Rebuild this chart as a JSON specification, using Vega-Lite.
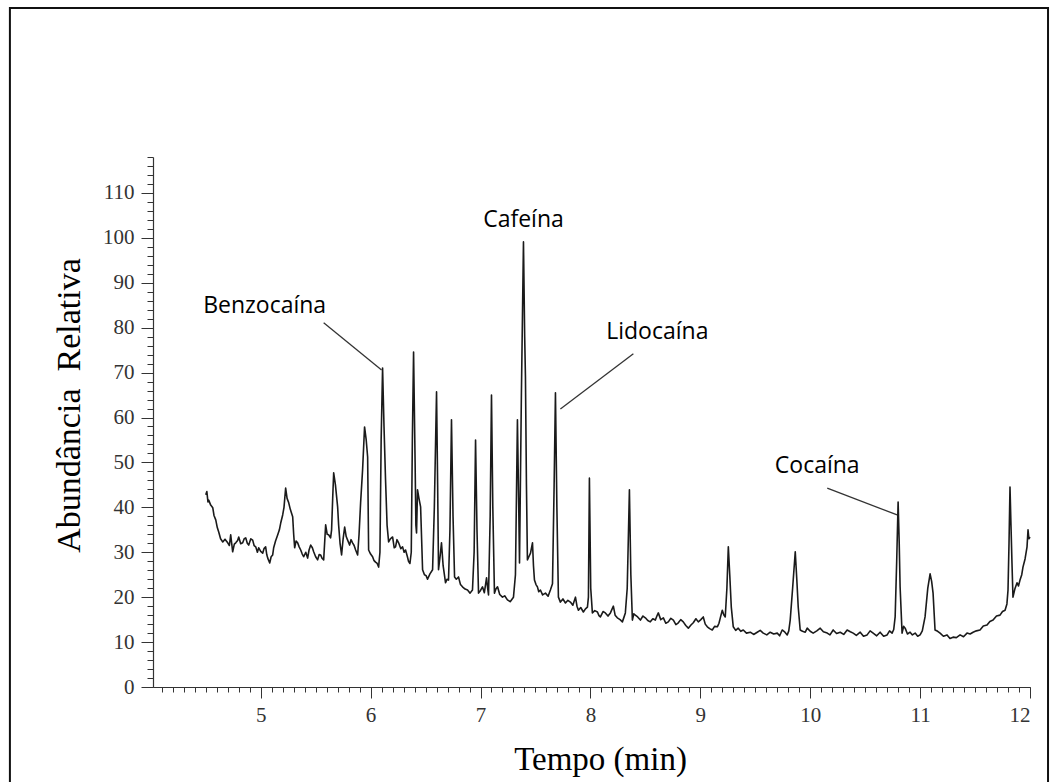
{
  "$schema": "https://vega.github.io/schema/vega-lite/v6.json",
  "width": 877,
  "height": 530,
  "autosize": {"type": "none"},
  "padding": {"left": 153, "top": 157, "right": 29, "bottom": 95},
  "background": "white",
  "config": {"view": {"stroke": null}},
  "datasets": {
    "trace": [
      {"t":4.500,"a":42.8},{"t":4.510,"a":43.5},{"t":4.520,"a":41.2},{"t":4.527,"a":41.6},{"t":4.545,"a":40.5},{"t":4.564,"a":39.9},{"t":4.575,"a":38.2},{"t":4.591,"a":37.2},{"t":4.605,"a":35.5},{"t":4.618,"a":34.5},{"t":4.635,"a":33.0},{"t":4.655,"a":32.3},{"t":4.675,"a":32.9},{"t":4.700,"a":32.1},{"t":4.715,"a":31.5},{"t":4.727,"a":33.9},{"t":4.745,"a":30.1},{"t":4.760,"a":31.8},{"t":4.773,"a":32.1},{"t":4.790,"a":32.6},{"t":4.800,"a":33.4},{"t":4.818,"a":31.9},{"t":4.836,"a":32.1},{"t":4.850,"a":33.0},{"t":4.864,"a":33.2},{"t":4.878,"a":32.0},{"t":4.891,"a":31.6},{"t":4.910,"a":33.0},{"t":4.927,"a":32.7},{"t":4.940,"a":31.5},{"t":4.955,"a":31.2},{"t":4.970,"a":30.0},{"t":4.982,"a":31.0},{"t":5.000,"a":30.2},{"t":5.018,"a":29.8},{"t":5.030,"a":30.8},{"t":5.045,"a":31.2},{"t":5.055,"a":29.5},{"t":5.064,"a":28.7},{"t":5.082,"a":27.6},{"t":5.095,"a":29.0},{"t":5.109,"a":29.4},{"t":5.118,"a":31.0},{"t":5.135,"a":32.5},{"t":5.155,"a":33.9},{"t":5.170,"a":35.0},{"t":5.182,"a":36.5},{"t":5.200,"a":38.3},{"t":5.212,"a":40.0},{"t":5.227,"a":44.3},{"t":5.240,"a":42.0},{"t":5.255,"a":41.0},{"t":5.270,"a":39.5},{"t":5.291,"a":37.9},{"t":5.300,"a":34.0},{"t":5.309,"a":31.0},{"t":5.322,"a":32.5},{"t":5.336,"a":32.1},{"t":5.350,"a":31.2},{"t":5.364,"a":30.5},{"t":5.378,"a":29.6},{"t":5.391,"a":29.0},{"t":5.410,"a":30.0},{"t":5.427,"a":28.7},{"t":5.440,"a":30.5},{"t":5.455,"a":31.6},{"t":5.470,"a":31.0},{"t":5.482,"a":30.1},{"t":5.500,"a":29.0},{"t":5.518,"a":28.3},{"t":5.532,"a":29.5},{"t":5.545,"a":29.4},{"t":5.560,"a":28.6},{"t":5.573,"a":28.3},{"t":5.591,"a":36.1},{"t":5.605,"a":34.0},{"t":5.618,"a":33.9},{"t":5.636,"a":33.2},{"t":5.645,"a":35.0},{"t":5.655,"a":42.0},{"t":5.664,"a":47.7},{"t":5.680,"a":45.0},{"t":5.700,"a":40.1},{"t":5.709,"a":36.1},{"t":5.722,"a":32.0},{"t":5.736,"a":29.4},{"t":5.750,"a":33.0},{"t":5.764,"a":35.6},{"t":5.778,"a":33.5},{"t":5.791,"a":32.7},{"t":5.809,"a":31.6},{"t":5.822,"a":32.8},{"t":5.836,"a":32.1},{"t":5.850,"a":31.5},{"t":5.864,"a":30.5},{"t":5.882,"a":29.4},{"t":5.895,"a":34.0},{"t":5.909,"a":41.0},{"t":5.927,"a":48.3},{"t":5.945,"a":57.9},{"t":5.960,"a":55.0},{"t":5.973,"a":51.2},{"t":5.982,"a":30.5},{"t":6.000,"a":29.6},{"t":6.018,"a":29.0},{"t":6.030,"a":28.2},{"t":6.045,"a":27.8},{"t":6.060,"a":27.5},{"t":6.073,"a":26.7},{"t":6.085,"a":30.0},{"t":6.096,"a":55.0},{"t":6.109,"a":71.0},{"t":6.122,"a":58.0},{"t":6.136,"a":46.1},{"t":6.150,"a":36.0},{"t":6.164,"a":32.3},{"t":6.180,"a":33.0},{"t":6.200,"a":33.4},{"t":6.215,"a":31.0},{"t":6.227,"a":31.2},{"t":6.240,"a":32.8},{"t":6.255,"a":32.1},{"t":6.275,"a":30.8},{"t":6.291,"a":31.2},{"t":6.305,"a":30.0},{"t":6.318,"a":30.5},{"t":6.335,"a":29.0},{"t":6.345,"a":28.0},{"t":6.358,"a":27.5},{"t":6.370,"a":30.0},{"t":6.380,"a":55.0},{"t":6.391,"a":74.6},{"t":6.405,"a":50.0},{"t":6.412,"a":36.0},{"t":6.418,"a":34.3},{"t":6.427,"a":43.9},{"t":6.440,"a":42.0},{"t":6.455,"a":40.1},{"t":6.473,"a":26.1},{"t":6.490,"a":25.0},{"t":6.505,"a":24.8},{"t":6.518,"a":24.0},{"t":6.540,"a":25.2},{"t":6.564,"a":26.1},{"t":6.580,"a":40.0},{"t":6.600,"a":65.7},{"t":6.610,"a":45.0},{"t":6.618,"a":26.1},{"t":6.632,"a":29.0},{"t":6.645,"a":32.1},{"t":6.660,"a":27.0},{"t":6.682,"a":23.2},{"t":6.695,"a":24.0},{"t":6.709,"a":23.8},{"t":6.722,"a":35.0},{"t":6.736,"a":59.5},{"t":6.750,"a":38.0},{"t":6.764,"a":24.5},{"t":6.780,"a":24.0},{"t":6.800,"a":24.5},{"t":6.818,"a":22.8},{"t":6.836,"a":22.3},{"t":6.860,"a":21.8},{"t":6.882,"a":21.6},{"t":6.905,"a":20.9},{"t":6.927,"a":21.6},{"t":6.942,"a":30.0},{"t":6.955,"a":55.0},{"t":6.968,"a":35.0},{"t":6.982,"a":20.9},{"t":7.000,"a":21.5},{"t":7.018,"a":22.3},{"t":7.035,"a":21.0},{"t":7.055,"a":24.3},{"t":7.065,"a":22.0},{"t":7.073,"a":20.5},{"t":7.088,"a":38.0},{"t":7.100,"a":65.0},{"t":7.112,"a":40.0},{"t":7.127,"a":20.9},{"t":7.140,"a":21.8},{"t":7.155,"a":22.3},{"t":7.175,"a":20.6},{"t":7.200,"a":20.0},{"t":7.220,"a":20.3},{"t":7.245,"a":19.4},{"t":7.270,"a":19.0},{"t":7.300,"a":20.0},{"t":7.318,"a":25.0},{"t":7.336,"a":59.5},{"t":7.348,"a":40.0},{"t":7.355,"a":27.6},{"t":7.372,"a":65.0},{"t":7.391,"a":99.1},{"t":7.402,"a":78.0},{"t":7.409,"a":69.0},{"t":7.418,"a":45.0},{"t":7.427,"a":28.3},{"t":7.440,"a":29.0},{"t":7.455,"a":29.8},{"t":7.473,"a":32.1},{"t":7.482,"a":27.0},{"t":7.491,"a":23.8},{"t":7.505,"a":22.8},{"t":7.518,"a":22.3},{"t":7.530,"a":21.2},{"t":7.545,"a":21.6},{"t":7.565,"a":20.5},{"t":7.591,"a":20.9},{"t":7.615,"a":20.2},{"t":7.636,"a":21.6},{"t":7.655,"a":23.0},{"t":7.670,"a":45.0},{"t":7.682,"a":65.5},{"t":7.695,"a":40.0},{"t":7.709,"a":20.0},{"t":7.727,"a":18.9},{"t":7.750,"a":19.6},{"t":7.773,"a":18.7},{"t":7.795,"a":19.3},{"t":7.818,"a":18.9},{"t":7.840,"a":18.2},{"t":7.864,"a":20.0},{"t":7.878,"a":18.0},{"t":7.891,"a":17.1},{"t":7.912,"a":17.7},{"t":7.936,"a":16.7},{"t":7.955,"a":17.4},{"t":7.973,"a":17.8},{"t":7.982,"a":20.0},{"t":7.991,"a":46.5},{"t":8.003,"a":22.0},{"t":8.018,"a":16.5},{"t":8.040,"a":17.0},{"t":8.064,"a":16.7},{"t":8.078,"a":15.9},{"t":8.091,"a":15.6},{"t":8.115,"a":16.8},{"t":8.136,"a":16.5},{"t":8.160,"a":15.8},{"t":8.182,"a":16.5},{"t":8.209,"a":18.0},{"t":8.225,"a":16.0},{"t":8.245,"a":15.4},{"t":8.270,"a":15.0},{"t":8.291,"a":14.5},{"t":8.305,"a":15.5},{"t":8.318,"a":16.5},{"t":8.335,"a":22.0},{"t":8.355,"a":43.9},{"t":8.368,"a":25.0},{"t":8.382,"a":14.9},{"t":8.395,"a":16.3},{"t":8.409,"a":16.0},{"t":8.430,"a":15.6},{"t":8.455,"a":14.9},{"t":8.478,"a":15.8},{"t":8.500,"a":15.4},{"t":8.522,"a":14.8},{"t":8.545,"a":14.5},{"t":8.568,"a":15.2},{"t":8.591,"a":14.9},{"t":8.605,"a":15.8},{"t":8.618,"a":16.5},{"t":8.640,"a":15.0},{"t":8.664,"a":15.4},{"t":8.686,"a":14.2},{"t":8.709,"a":14.5},{"t":8.732,"a":15.3},{"t":8.755,"a":14.9},{"t":8.778,"a":13.9},{"t":8.800,"a":14.3},{"t":8.822,"a":15.0},{"t":8.845,"a":14.5},{"t":8.868,"a":13.7},{"t":8.891,"a":13.1},{"t":8.915,"a":13.8},{"t":8.936,"a":14.3},{"t":8.960,"a":15.2},{"t":8.982,"a":14.5},{"t":9.005,"a":15.0},{"t":9.027,"a":15.6},{"t":9.045,"a":14.0},{"t":9.064,"a":13.4},{"t":9.085,"a":13.0},{"t":9.109,"a":12.7},{"t":9.130,"a":13.5},{"t":9.155,"a":13.4},{"t":9.170,"a":14.2},{"t":9.182,"a":15.4},{"t":9.200,"a":17.1},{"t":9.215,"a":16.0},{"t":9.227,"a":15.6},{"t":9.242,"a":22.0},{"t":9.255,"a":31.2},{"t":9.268,"a":25.0},{"t":9.282,"a":17.8},{"t":9.300,"a":13.4},{"t":9.322,"a":12.6},{"t":9.345,"a":13.1},{"t":9.368,"a":12.4},{"t":9.391,"a":12.7},{"t":9.420,"a":12.0},{"t":9.455,"a":12.2},{"t":9.485,"a":11.7},{"t":9.518,"a":12.2},{"t":9.545,"a":12.6},{"t":9.573,"a":12.0},{"t":9.605,"a":11.6},{"t":9.636,"a":12.2},{"t":9.668,"a":11.8},{"t":9.700,"a":12.0},{"t":9.722,"a":11.4},{"t":9.745,"a":12.7},{"t":9.770,"a":12.2},{"t":9.791,"a":11.6},{"t":9.805,"a":12.5},{"t":9.818,"a":14.9},{"t":9.840,"a":22.0},{"t":9.864,"a":30.1},{"t":9.878,"a":24.0},{"t":9.891,"a":17.8},{"t":9.909,"a":12.7},{"t":9.930,"a":12.4},{"t":9.955,"a":12.2},{"t":9.973,"a":13.1},{"t":10.000,"a":12.4},{"t":10.027,"a":12.0},{"t":10.060,"a":12.5},{"t":10.091,"a":13.1},{"t":10.120,"a":12.3},{"t":10.155,"a":12.0},{"t":10.180,"a":11.6},{"t":10.209,"a":12.7},{"t":10.240,"a":11.9},{"t":10.273,"a":12.2},{"t":10.305,"a":11.7},{"t":10.336,"a":12.7},{"t":10.365,"a":12.3},{"t":10.391,"a":12.0},{"t":10.420,"a":11.5},{"t":10.455,"a":12.2},{"t":10.485,"a":11.3},{"t":10.518,"a":11.6},{"t":10.545,"a":12.5},{"t":10.573,"a":12.0},{"t":10.605,"a":11.4},{"t":10.636,"a":12.2},{"t":10.668,"a":11.3},{"t":10.700,"a":11.6},{"t":10.722,"a":12.5},{"t":10.745,"a":12.0},{"t":10.760,"a":12.8},{"t":10.773,"a":15.6},{"t":10.787,"a":28.0},{"t":10.800,"a":41.2},{"t":10.810,"a":32.0},{"t":10.818,"a":22.3},{"t":10.836,"a":12.0},{"t":10.850,"a":13.5},{"t":10.864,"a":13.1},{"t":10.885,"a":11.8},{"t":10.909,"a":12.2},{"t":10.930,"a":11.6},{"t":10.955,"a":12.0},{"t":10.978,"a":11.3},{"t":11.000,"a":11.6},{"t":11.020,"a":12.5},{"t":11.045,"a":15.6},{"t":11.070,"a":22.0},{"t":11.091,"a":25.2},{"t":11.105,"a":23.5},{"t":11.118,"a":20.9},{"t":11.136,"a":12.7},{"t":11.160,"a":12.4},{"t":11.182,"a":12.0},{"t":11.212,"a":11.3},{"t":11.245,"a":11.6},{"t":11.272,"a":10.8},{"t":11.300,"a":11.1},{"t":11.330,"a":11.0},{"t":11.364,"a":11.6},{"t":11.395,"a":11.2},{"t":11.427,"a":12.0},{"t":11.455,"a":11.8},{"t":11.482,"a":12.2},{"t":11.512,"a":12.5},{"t":11.545,"a":12.7},{"t":11.575,"a":13.6},{"t":11.609,"a":13.8},{"t":11.635,"a":14.6},{"t":11.664,"a":14.9},{"t":11.695,"a":15.8},{"t":11.727,"a":16.0},{"t":11.750,"a":16.8},{"t":11.773,"a":17.1},{"t":11.790,"a":18.5},{"t":11.800,"a":21.6},{"t":11.809,"a":32.0},{"t":11.818,"a":44.5},{"t":11.827,"a":36.0},{"t":11.836,"a":27.6},{"t":11.845,"a":20.0},{"t":11.862,"a":21.8},{"t":11.882,"a":23.2},{"t":11.895,"a":22.5},{"t":11.909,"a":23.8},{"t":11.925,"a":25.0},{"t":11.936,"a":26.7},{"t":11.955,"a":28.5},{"t":11.973,"a":31.2},{"t":11.982,"a":35.0},{"t":11.990,"a":33.0},{"t":12.000,"a":33.4}
    ],
    "labels": [
      {"label": "Benzocaína", "t": 5.036, "a": 83.3},
      {"label": "Cafeína", "t": 7.391, "a": 102.4},
      {"label": "Lidocaína", "t": 8.609, "a": 77.5},
      {"label": "Cocaína", "t": 10.064, "a": 47.7}
    ],
    "leaders": [
      {"t": 5.573, "a": 81.1, "t2": 6.100, "a2": 70.6},
      {"t": 8.391, "a": 74.2, "t2": 7.727, "a2": 61.9},
      {"t": 10.155, "a": 44.3, "t2": 10.791, "a2": 38.3}
    ]
  },
  "layer": [
    {
      "data": {"values": [{}]},
      "mark": {"type": "rect", "filled": false, "color": "#111111", "strokeWidth": 2},
      "encoding": {
        "x": {"datum": 2.718, "type": "quantitative",
          "scale": {"domain": [4.02, 12], "nice": false, "zero": false},
          "axis": {"orient": "bottom", "values": [4.1,4.2,4.3,4.4,4.5,4.6,4.7,4.8,4.9,5.0,5.1,5.2,5.3,5.4,5.5,5.6,5.7,5.8,5.9,6.0,6.1,6.2,6.3,6.4,6.5,6.6,6.7,6.8,6.9,7.0,7.1,7.2,7.3,7.4,7.5,7.6,7.7,7.8,7.9,8.0,8.1,8.2,8.3,8.4,8.5,8.6,8.7,8.8,8.9,9.0,9.1,9.2,9.3,9.4,9.5,9.6,9.7,9.8,9.9,10.0,10.1,10.2,10.3,10.4,10.5,10.6,10.7,10.8,10.9,11.0,11.1,11.2,11.3,11.4,11.5,11.6,11.7,11.8,11.9,12.0],
            "labels": false, "domain": false, "grid": false, "title": null, "tickSize": 5, "tickColor": "#333333", "tickWidth": 1}},
        "x2": {"datum": 12.164},
        "y": {"datum": -25, "type": "quantitative",
          "scale": {"domain": [0, 118], "nice": false, "zero": false},
          "axis": {"orient": "left", "values": [0,2,4,6,8,10,12,14,16,18,20,22,24,26,28,30,32,34,36,38,40,42,44,46,48,50,52,54,56,58,60,62,64,66,68,70,72,74,76,78,80,82,84,86,88,90,92,94,96,98,100,102,104,106,108,110,112,114,116,118],
            "labels": false, "domain": false, "grid": false, "title": null, "tickSize": 6, "tickColor": "#333333", "tickWidth": 1}},
        "y2": {"datum": 151.2}
      }
    },
    {
      "data": {"name": "trace"},
      "mark": {"type": "line", "color": "#1a1a1a", "strokeWidth": 1.6, "strokeJoin": "round"},
      "encoding": {
        "x": {"field": "t", "type": "quantitative",
          "scale": {"domain": [4.02, 12], "nice": false, "zero": false},
          "axis": {"orient": "bottom", "values": [5,6,7,8,9,10,11,12], "grid": false,
            "tickSize": 11, "tickColor": "#333333", "domainColor": "#333333", "domainWidth": 1.2,
            "labelFont": "Liberation Serif", "labelFontSize": 21, "labelColor": "#333333", "labelPadding": 6,
            "title": "Tempo (min)", "titleFont": "Liberation Serif", "titleFontSize": 33, "titleFontWeight": "normal", "titleColor": "#000000", "titlePadding": 18, "titleX": 447}},
        "y": {"field": "a", "type": "quantitative",
          "scale": {"domain": [0, 118], "nice": false, "zero": false},
          "axis": {"orient": "left", "values": [0,10,20,30,40,50,60,70,80,90,100,110], "grid": false,
            "tickSize": 12, "tickColor": "#333333", "domainColor": "#333333", "domainWidth": 1.2,
            "labelFont": "Liberation Serif", "labelFontSize": 21, "labelColor": "#333333", "labelPadding": 7,
            "title": "Abundância\u00a0\u00a0Relativa", "titleFont": "Liberation Serif", "titleFontSize": 34, "titleFontWeight": "normal", "titleColor": "#000000", "titlePadding": 16, "titleY": 248}}
      }
    },
    {
      "data": {"name": "leaders"},
      "mark": {"type": "rule", "color": "#333333", "strokeWidth": 1.3},
      "encoding": {
        "x": {"field": "t", "type": "quantitative", "scale": {"domain": [4.02, 12], "nice": false, "zero": false}, "axis": null},
        "y": {"field": "a", "type": "quantitative", "scale": {"domain": [0, 118], "nice": false, "zero": false}, "axis": null},
        "x2": {"field": "t2"},
        "y2": {"field": "a2"}
      }
    },
    {
      "data": {"name": "labels"},
      "mark": {"type": "text", "font": "Open Sans", "fontSize": 23, "color": "#000000", "align": "center", "baseline": "alphabetic"},
      "encoding": {
        "x": {"field": "t", "type": "quantitative", "scale": {"domain": [4.02, 12], "nice": false, "zero": false}, "axis": null},
        "y": {"field": "a", "type": "quantitative", "scale": {"domain": [0, 118], "nice": false, "zero": false}, "axis": null},
        "text": {"field": "label", "type": "nominal"}
      }
    }
  ],
  "resolve": {"axis": {"x": "independent", "y": "independent"}}
}
